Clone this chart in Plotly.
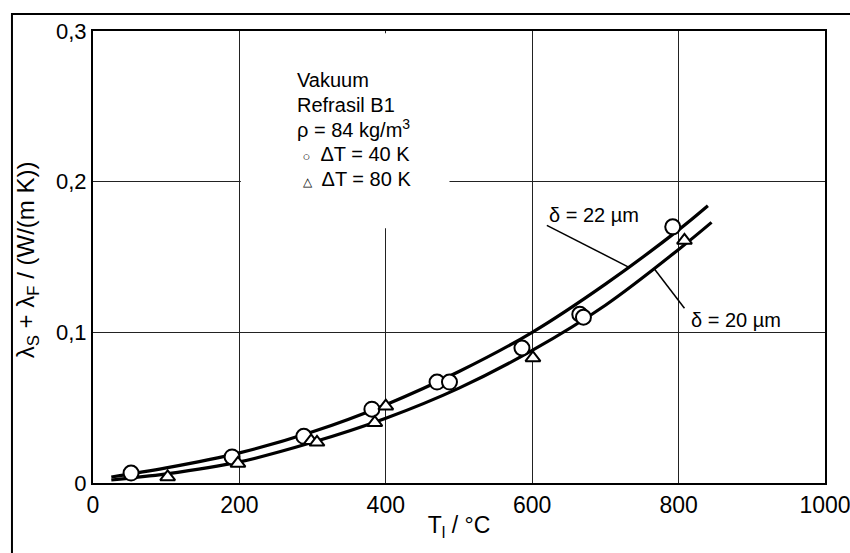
import plotly.graph_objects as go

# data
t_circle = [52, 190, 288, 381, 470, 487, 586, 665, 670, 792]
l_circle = [0.0066, 0.0173, 0.031, 0.049, 0.067, 0.067, 0.0896, 0.112, 0.110, 0.170]
t_tri = [102, 198, 298, 306, 385, 400, 601, 808]
l_tri = [0.004, 0.013, 0.028, 0.027, 0.040, 0.051, 0.083, 0.161]

t_curve22 = [25, 100, 200, 300, 400, 500, 600, 700, 800, 840]
l_curve22 = [0.004, 0.010, 0.020, 0.034, 0.052, 0.074, 0.100, 0.132, 0.168, 0.184]
t_curve20 = [25, 100, 200, 300, 400, 500, 600, 700, 800, 845]
l_curve20 = [0.002, 0.006, 0.014, 0.027, 0.043, 0.063, 0.088, 0.118, 0.155, 0.173]

x_ticks = [0, 200, 400, 600, 800, 1000]
y_ticks = [0, 0.1, 0.2, 0.3]
y_ticktext = ["0", "0,1", "0,2", "0,3"]

FONT = "Liberation Sans, Arial, sans-serif"

fig = go.Figure()
fig.add_trace(go.Scatter(x=t_curve22, y=l_curve22, mode="lines",
                         line=dict(color="black", width=3.2, shape="spline"), showlegend=False))
fig.add_trace(go.Scatter(x=t_curve20, y=l_curve20, mode="lines",
                         line=dict(color="black", width=3.2, shape="spline"), showlegend=False))
fig.add_trace(go.Scatter(x=t_circle, y=l_circle, mode="markers",
                         marker=dict(symbol="circle", size=15, color="white",
                                     line=dict(color="black", width=2)), showlegend=False))
fig.add_trace(go.Scatter(x=t_tri, y=l_tri, mode="markers",
                         marker=dict(symbol="triangle-up", size=13, color="white",
                                     line=dict(color="black", width=2)), showlegend=False))

# white background behind the legend text (hides the grid there)
fig.add_shape(type="rect", xref="x", yref="y", x0=202, x1=487, y0=0.169, y1=0.2985,
              fillcolor="white", line=dict(width=0), layer="between")

# legend-like text block
legend_lines = [
    "Vakuum",
    "Refrasil B1",
    "ρ = 84 kg/m<sup>3</sup>",
    " <span style='font-size:13px'>○</span>  ΔT = 40 K",
    " <span style='font-size:12px'>△</span>  ΔT = 80 K",
]
legend_y = [0.2674, 0.251, 0.235, 0.2185, 0.202]
for txt, yy in zip(legend_lines, legend_y):
    fig.add_annotation(x=276, y=yy, xref="x", yref="y", text=txt, showarrow=False,
                       xanchor="left", yanchor="middle",
                       font=dict(family=FONT, size=20, color="black"))

fig.add_annotation(x=684, y=0.178, text="δ = 22 µm", showarrow=False,
                   font=dict(family=FONT, size=20, color="black"))
fig.add_annotation(x=878, y=0.108, text="δ = 20 µm", showarrow=False,
                   font=dict(family=FONT, size=20, color="black"))
fig.add_shape(type="line", x0=620, y0=0.171, x1=733, y1=0.143, xref="x", yref="y",
              line=dict(color="black", width=1.5))
fig.add_shape(type="line", x0=767, y0=0.142, x1=808, y1=0.116, xref="x", yref="y",
              line=dict(color="black", width=1.5))

# y-axis title placed as rotated annotation
fig.add_annotation(x=-0.090, y=0.493, xref="paper", yref="paper", textangle=-90,
                   text="λ<sub>S</sub> + λ<sub>F</sub> / (W/(m K))", showarrow=False,
                   xanchor="center", yanchor="middle",
                   font=dict(family=FONT, size=24, color="black"))

# outer frame (top & left)
fig.add_shape(type="rect", xref="paper", yref="paper", x0=-0.1107, x1=1.3, y0=-0.3, y1=1.0376,
              line=dict(color="black", width=2), layer="below")

fig.update_layout(
    width=850, height=553,
    margin=dict(l=93, r=25, t=31, b=70, autoexpand=False),
    paper_bgcolor="white", plot_bgcolor="white",
    font=dict(family=FONT, size=21, color="black"),
    xaxis=dict(range=[0, 1000], tickvals=x_ticks, showgrid=True, gridcolor="#222",
               gridwidth=1, showline=True, linecolor="black", linewidth=2, mirror=True,
               ticks="", zeroline=False, tickfont=dict(size=23), ticklabeloverflow="allow",
               automargin=False,
               title=dict(text="T<sub>l</sub> / °C", font=dict(size=23), standoff=0)),
    yaxis=dict(range=[0, 0.3], tickvals=y_ticks, ticktext=y_ticktext, showgrid=True,
               gridcolor="#222", gridwidth=1, showline=True, linecolor="black", linewidth=2,
               mirror=True, ticks="", zeroline=False, tickfont=dict(size=22), automargin=False),
)

fig.write_html("out.html")
